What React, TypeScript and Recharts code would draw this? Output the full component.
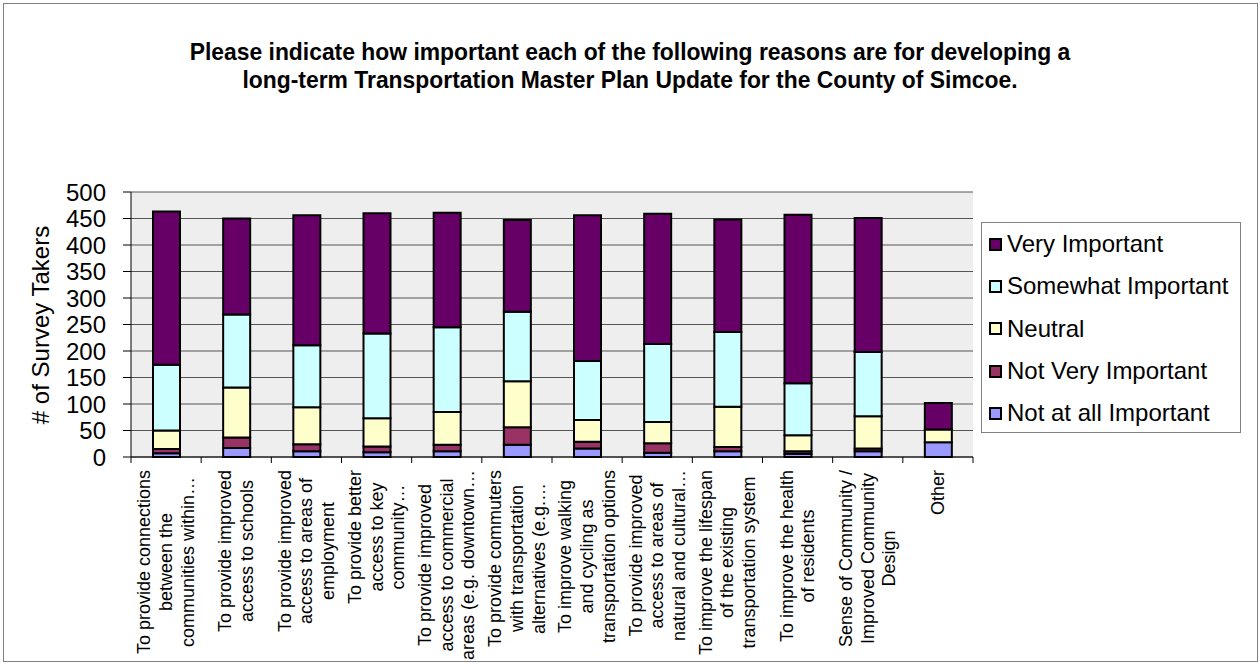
import { BarChart, Bar, XAxis, YAxis, CartesianGrid } from "recharts"

const title = [
  "Please indicate how important each of the following reasons are for developing a",
  "long-term Transportation Master Plan Update for the County of Simcoe.",
]

const categories = [
  "To provide connections\nbetween the\ncommunities within…",
  "To provide improved\naccess to schools",
  "To provide improved\naccess to areas of\nemployment",
  "To provide better\naccess to key\ncommunity…",
  "To provide improved\naccess to commercial\nareas (e.g. downtown…",
  "To provide commuters\nwith transportation\nalternatives (e.g.…",
  "To improve walking\nand cycling as\ntransportation options",
  "To provide improved\naccess to areas of\nnatural and cultural…",
  "To improve the lifespan\nof the existing\ntransportation system",
  "To improve the health\nof residents",
  "Sense of Community /\nImproved Community\nDesign",
  "Other",
]

const notAtAll = [7, 17, 11, 9, 11, 23, 16, 8, 11, 6, 11, 28]
const notVery = [8, 20, 13, 11, 12, 33, 13, 18, 8, 5, 5, 0]
const neutral = [35, 94, 70, 53, 62, 87, 41, 40, 76, 30, 61, 24]
const somewhat = [124, 138, 117, 160, 160, 131, 111, 147, 141, 98, 121, 0]
const very = [289, 181, 245, 227, 216, 173, 275, 246, 212, 318, 253, 50]

const yTicks = [0, 50, 100, 150, 200, 250, 300, 350, 400, 450, 500]

// bottom to top stacking order
const series = [
  { key: "notAtAll", name: "Not at all Important", color: "#9999FF", values: notAtAll },
  { key: "notVery", name: "Not Very Important", color: "#993366", values: notVery },
  { key: "neutral", name: "Neutral", color: "#FFFFCC", values: neutral },
  { key: "somewhat", name: "Somewhat Important", color: "#CCFFFF", values: somewhat },
  { key: "very", name: "Very Important", color: "#660066", values: very },
]

const data = categories.map((name, i) => {
  const row: Record<string, string | number> = { name }
  series.forEach((s) => {
    row[s.key] = s.values[i]
  })
  return row
})

const FONT = "'Liberation Sans', Arial, sans-serif"
const W = 1260
const H = 664
const margin = { top: 192, right: 287, bottom: 0, left: 0 }
const Y_AXIS_W = 131
const X_AXIS_H = 207
const PLOT_W = W - margin.left - margin.right - Y_AXIS_W
const STEP = PLOT_W / categories.length

let ctx: CanvasRenderingContext2D | null = null
function textWidth(s: string, font: string) {
  if (!ctx && typeof document !== "undefined") {
    ctx = document.createElement("canvas").getContext("2d")
  }
  if (!ctx) return s.length * 9
  ctx.font = font
  return ctx.measureText(s).width
}

const X_FONT_SIZE = 18
const X_LINE = 21.7

function CategoryTick(props: any) {
  const { x, y, payload, index } = props
  const lines = String(payload.value).split("\n")
  const longest = Math.max(...lines.map((l) => textWidth(l, `${X_FONT_SIZE}px ${FONT}`)))
  const half = STEP / 2
  return (
    <g>
      <line x1={x - half} y1={y} x2={x - half} y2={y + 6} stroke="#000" />
      {index === categories.length - 1 && (
        <line x1={x + half} y1={y} x2={x + half} y2={y + 6} stroke="#000" />
      )}
      <g transform={`translate(${x},${y + 13}) rotate(-90)`}>
        {lines.map((l, i) => (
          <text
            key={i}
            x={-longest / 2}
            y={(i - (lines.length - 1) / 2) * X_LINE}
            textAnchor="middle"
            dominantBaseline="central"
            fontSize={X_FONT_SIZE}
            fontFamily={FONT}
            fill="#000"
          >
            {l}
          </text>
        ))}
      </g>
    </g>
  )
}

function Title() {
  const font = `bold 24px ${FONT}`
  const w2 = textWidth(title[1], font)
  const k = 775 / w2
  return (
    <svg width={W} height={H} style={{ position: "absolute", left: 0, top: 0, pointerEvents: "none" }}>
      {title.map((t, i) => (
        <text
          key={i}
          x={630}
          y={60 + i * 28}
          textAnchor="middle"
          fontSize={24}
          fontWeight="bold"
          fontFamily={FONT}
          textLength={textWidth(t, font) * k}
          lengthAdjust="spacingAndGlyphs"
          fill="#000"
        >
          {t}
        </text>
      ))}
      <text
        transform="translate(40,325) rotate(-90)"
        textAnchor="middle"
        dominantBaseline="central"
        fontSize={24}
        fontFamily={FONT}
        fill="#000"
      >
        # of Survey Takers
      </text>
    </svg>
  )
}

function LegendBox() {
  const items = [...series].reverse()
  return (
    <div
      style={{
        position: "absolute",
        left: 981,
        top: 222,
        width: 260,
        height: 211,
        border: "1px solid #808080",
        background: "#fff",
        boxSizing: "border-box",
        fontFamily: FONT,
        fontSize: 24,
      }}
    >
      {items.map((s) => (
        <div key={s.key} style={{ height: 42.3, display: "flex", alignItems: "center", paddingLeft: 7 }}>
          <span
            style={{
              display: "inline-block",
              width: 9,
              height: 9,
              border: "2px solid #000",
              background: s.color,
              marginRight: 5,
            }}
          />
          <span style={{ whiteSpace: "nowrap" }}>{s.name}</span>
        </div>
      ))}
    </div>
  )
}

export default function App() {
  return (
    <div style={{ position: "absolute", left: 0, top: 0, width: W, height: H, background: "#fff" }}>
      <div
        style={{
          position: "absolute",
          left: 3,
          top: 3,
          width: W - 7,
          height: H - 7,
          border: "1px solid #808080",
        }}
      />
      <div style={{ position: "absolute", left: 0, top: 0 }}>
        <BarChart width={W} height={H} data={data} margin={margin}>
          <CartesianGrid vertical={false} stroke="#555" fill="#EEEEEE" />
          <XAxis
            dataKey="name"
            height={X_AXIS_H}
            interval={0}
            tickLine={false}
            tickSize={0}
            tickMargin={0}
            axisLine={{ stroke: "#000" }}
            tick={<CategoryTick />}
          />
          <YAxis
            width={Y_AXIS_W}
            domain={[0, 500]}
            ticks={yTicks}
            interval={0}
            tickSize={8}
            tickMargin={17}
            axisLine={{ stroke: "#000" }}
            tickLine={{ stroke: "#000" }}
            tick={{ fontSize: 24, fill: "#000", fontFamily: FONT }}
          />
          {series.map((s) => (
            <Bar
              key={s.key}
              dataKey={s.key}
              name={s.name}
              stackId="a"
              fill={s.color}
              stroke="#000"
              strokeWidth={2}
              barSize={27}
              isAnimationActive={false}
            />
          ))}
        </BarChart>
      </div>
      <Title />
      <LegendBox />
    </div>
  )
}
